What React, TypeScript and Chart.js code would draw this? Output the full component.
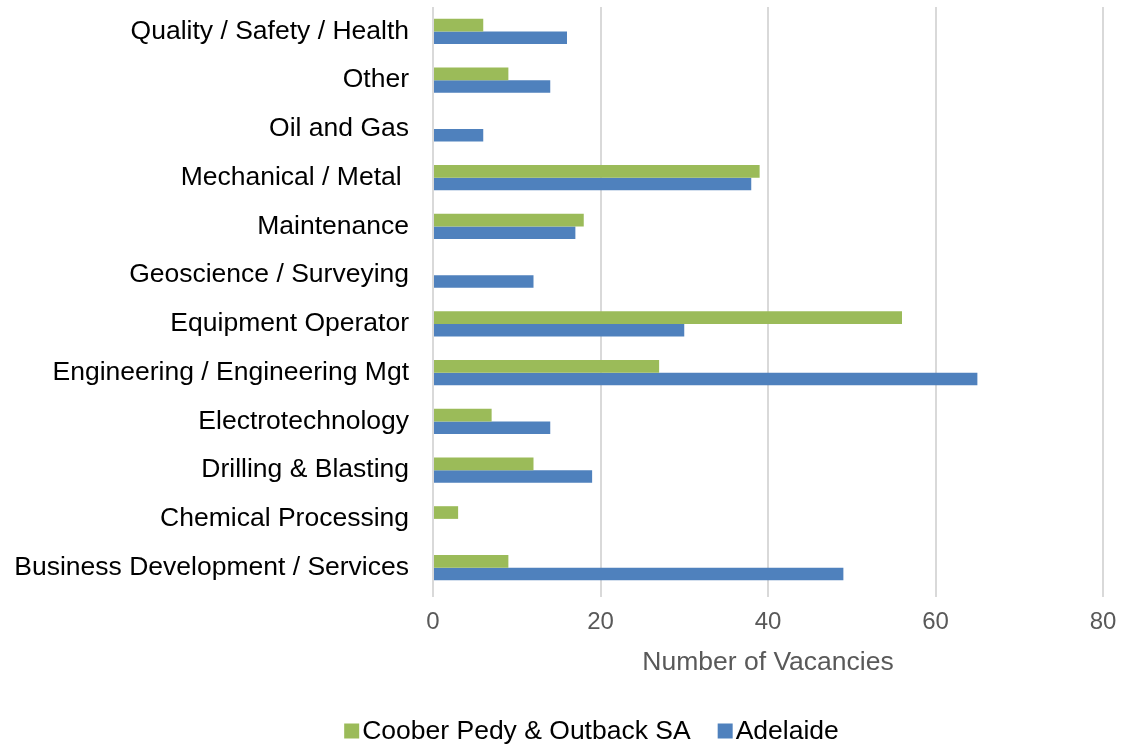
import React, { useEffect, useRef } from "react";
import { Chart, registerables } from "chart.js";

Chart.register(...registerables);

const categories = [
  "Quality / Safety / Health",
  "Other",
  "Oil and Gas",
  "Mechanical / Metal ",
  "Maintenance",
  "Geoscience / Surveying",
  "Equipment Operator",
  "Engineering / Engineering Mgt",
  "Electrotechnology",
  "Drilling & Blasting",
  "Chemical Processing",
  "Business Development / Services",
];

const cooberPedy = [6, 9, 0, 39, 18, 0, 56, 27, 7, 12, 3, 9];
const adelaide = [16, 14, 6, 38, 17, 12, 30, 65, 14, 19, 0, 49];

const xTicks = [0, 20, 40, 60, 80];

const seriesNames = ["Coober Pedy & Outback SA", "Adelaide"];
const seriesColors = ["#9BBB59", "#4F81BD"];

const FONT = '"Liberation Sans", Arial, sans-serif';

const legendPlugin = {
  id: "customLegend",
  afterDraw(chart: any) {
    const ctx = chart.ctx;
    ctx.save();
    ctx.font = `26.5px ${FONT}`;
    ctx.textBaseline = "middle";
    ctx.textAlign = "left";
    const box = 15;
    const gap = 3;
    const itemGap = 27;
    const items = chart.data.datasets.map((d: any) => ({
      label: d.label,
      color: d.backgroundColor,
      w: ctx.measureText(d.label).width,
    }));
    let total = 0;
    items.forEach((it: any, i: number) => {
      total += box + gap + it.w + (i > 0 ? itemGap : 0);
    });
    const cx = 591.5;
    const cy = 731;
    let x = cx - total / 2;
    items.forEach((it: any, i: number) => {
      if (i > 0) x += itemGap;
      ctx.fillStyle = it.color;
      ctx.fillRect(x, cy - box / 2, box, box);
      x += box + gap;
      ctx.fillStyle = "#000000";
      ctx.fillText(it.label, x, cy + 1);
      x += it.w;
    });
    ctx.restore();
  },
};

export default function App() {
  const canvasRef = useRef<HTMLCanvasElement | null>(null);

  useEffect(() => {
    if (!canvasRef.current) return;
    const chart = new Chart(canvasRef.current, {
      type: "bar",
      data: {
        labels: categories,
        datasets: [
          {
            label: seriesNames[0],
            data: cooberPedy,
            backgroundColor: seriesColors[0],
            borderWidth: 0,
            categoryPercentage: 0.52,
            barPercentage: 1,
          },
          {
            label: seriesNames[1],
            data: adelaide,
            backgroundColor: seriesColors[1],
            borderWidth: 0,
            categoryPercentage: 0.52,
            barPercentage: 1,
          },
        ],
      },
      options: {
        indexAxis: "y",
        animation: false,
        responsive: false,
        maintainAspectRatio: false,
        layout: { padding: { left: 0, top: 7, right: 27, bottom: 65 } },
        plugins: {
          legend: { display: false },
          tooltip: { enabled: false },
        },
        scales: {
          x: {
            type: "linear",
            min: 0,
            max: 80,
            afterBuildTicks: (scale: any) => {
              scale.ticks = xTicks.map((v) => ({ value: v }));
            },
            ticks: {
              color: "#595959",
              font: { family: FONT, size: 24 },
              padding: 11,
            },
            grid: {
              color: "#d9d9d9",
              lineWidth: 2,
              drawTicks: true,
              tickLength: 5,
            },
            border: { display: false },
            title: {
              display: true,
              text: "Number of Vacancies",
              color: "#595959",
              font: { family: FONT, size: 26.5 },
              padding: { top: 0, bottom: 0 },
            },
            afterFit: (scale: any) => {
              scale.height = 87;
              scale.paddingLeft = 0;
              scale.paddingRight = 0;
            },
          },
          y: {
            type: "category",
            grid: { display: false, drawTicks: false },
            border: { display: false },
            ticks: {
              color: "#000000",
              font: { family: FONT, size: 26.5 },
              padding: 24,
              autoSkip: false,
            },
            afterFit: (scale: any) => {
              scale.width = 433;
              scale.paddingTop = 0;
              scale.paddingBottom = 0;
            },
          },
        },
      },
      plugins: [legendPlugin],
    } as any);
    return () => chart.destroy();
  }, []);

  return (
    <div style={{ position: "fixed", left: 0, top: 0, width: 1130, height: 744, background: "#ffffff" }}>
      <canvas ref={canvasRef} width={1130} height={744} style={{ width: 1130, height: 744 }} />
    </div>
  );
}
